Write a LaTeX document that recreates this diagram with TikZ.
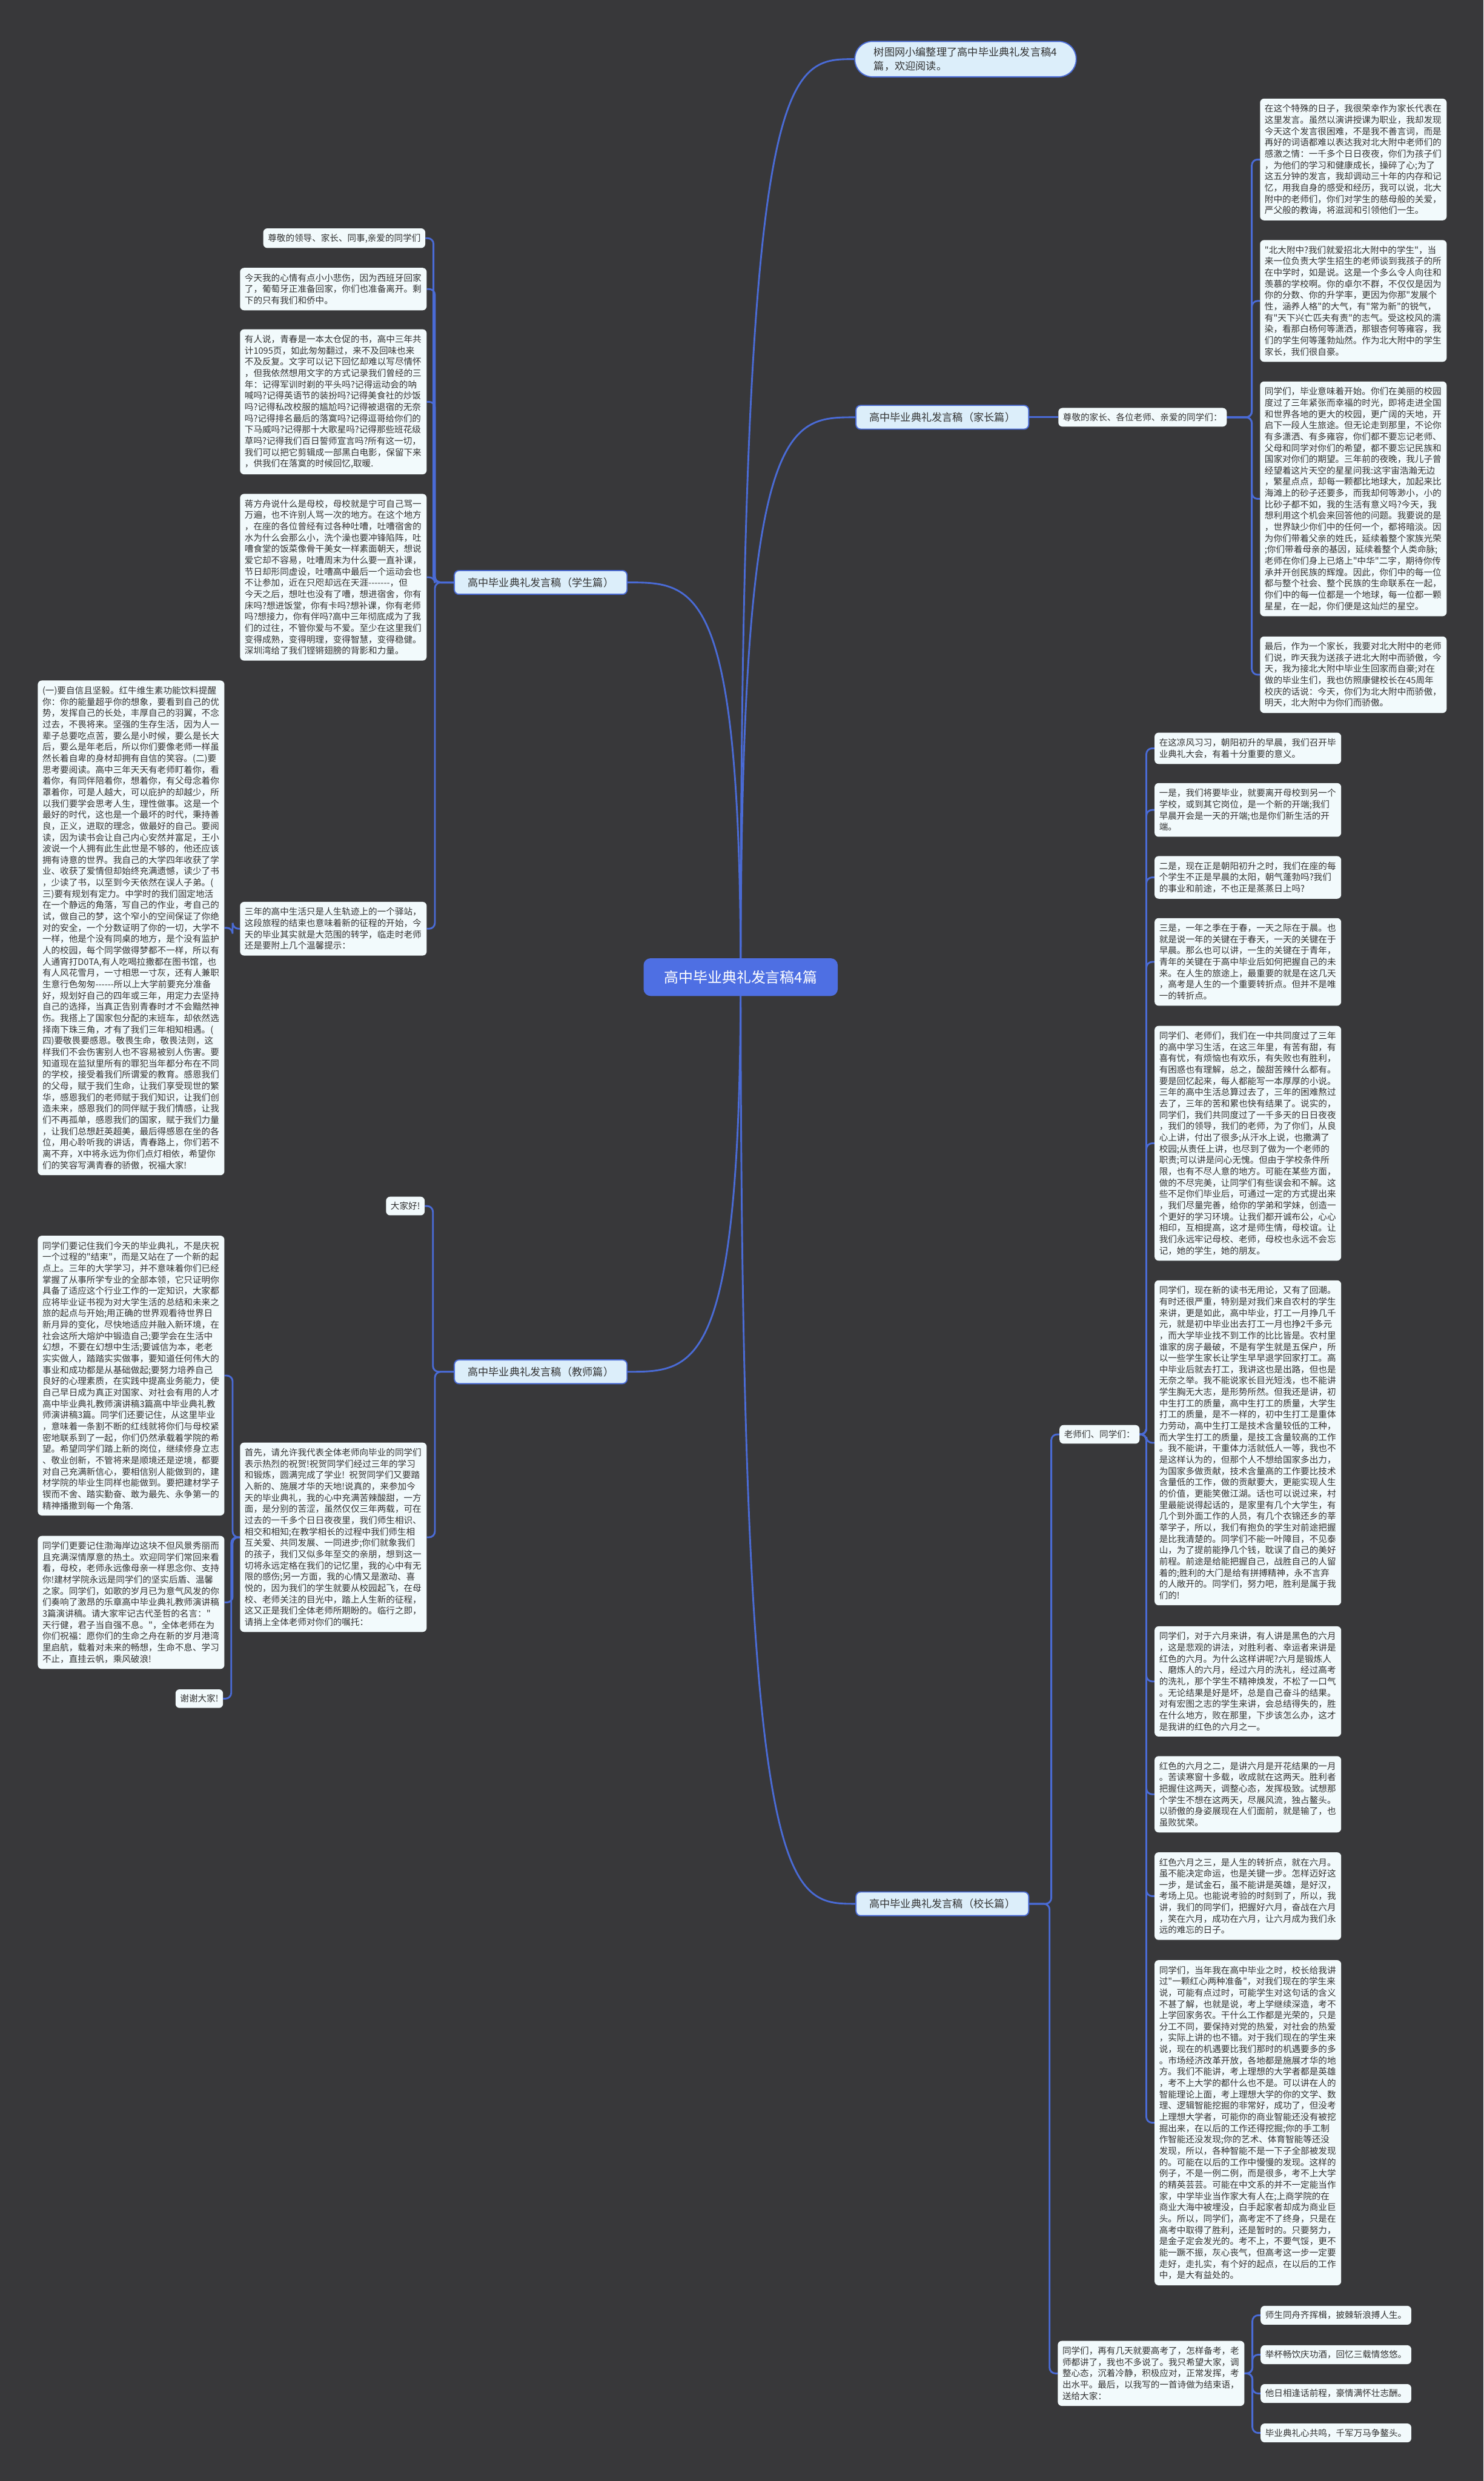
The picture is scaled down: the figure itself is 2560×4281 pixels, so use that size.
\documentclass[tikz,border=0pt]{standalone}
\usepackage{fontspec}
\newfontfamily\cjk{Noto Sans CJK SC}
\usetikzlibrary{calc}
\definecolor{bgc}{HTML}{38383A}
\definecolor{boxc}{HTML}{F2FAFC}
\definecolor{txtc}{HTML}{333333}
\definecolor{linec}{HTML}{4A6BD6}
\definecolor{labc}{HTML}{DCEEFA}
\definecolor{rootc}{HTML}{4E6FE3}
\pgfdeclarelayer{bglayer}
\pgfdeclarelayer{linelayer}
\pgfsetlayers{bglayer,linelayer,main}
\newcommand\linkR[2]{\draw[linkline] (#1.east) -| ($(#2.west)+(-14,0)$) -- (#2.west);}
\newcommand\linkL[2]{\draw[linkline] (#1.west) -| ($(#2.east)+(14,0)$) -- (#2.east);}
\begin{document}
\begin{tikzpicture}[x=1pt,y=-1pt,
  leafbox/.style={fill=boxc, draw=none, rounded corners=7pt, text=txtc,
    font=\cjk\fontsize{15.25}{19.5}\selectfont, text width=306pt, align=left,
    inner xsep=8pt, inner ysep=10pt, anchor=north west},
  shortbox/.style={fill=boxc, draw=none, rounded corners=7pt, text=txtc,
    font=\cjk\fontsize{15.25}{19.5}\selectfont, inner xsep=8pt, inner ysep=9pt},
  branchlab/.style={fill=labc, draw=linec, line width=2pt, rounded corners=8pt, text=txtc,
    font=\cjk\fontsize{18}{22}\selectfont, minimum width=298pt, minimum height=41pt, inner xsep=10pt},
  topnode/.style={fill=labc, draw=linec, line width=2pt, rounded corners=30pt, text=txtc,
    font=\cjk\fontsize{18}{24}\selectfont, align=left, inner xsep=33pt, inner ysep=10pt},
  rootnode/.style={fill=rootc, draw=none, rounded corners=12pt, text=white,
    font=\cjk\fontsize{25}{30}\selectfont, minimum width=335pt, minimum height=65pt},
  linkline/.style={draw=linec, line width=3pt, rounded corners=10pt},
  rootline/.style={draw=linec, line width=3pt}
]
\begin{pgfonlayer}{bglayer}
\fill[bgc] (0,0) rectangle (2560,4281);
\end{pgfonlayer}
\useasboundingbox (0,0) rectangle (2560,4281);

% root and branches
\node[rootnode] (RT) at (1278,1686) {高中毕业典礼发言稿4篇};
\node[topnode, anchor=west] (TN) at (1474,102) {树图网小编整理了高中毕业典礼发言稿4\\篇，欢迎阅读。};
\node[branchlab, anchor=west] (LP) at (1476,720) {高中毕业典礼发言稿（家长篇）};
\node[branchlab, anchor=east] (LS) at (1083,1005) {高中毕业典礼发言稿（学生篇）};
\node[branchlab, anchor=east] (LT) at (1083,2367) {高中毕业典礼发言稿（教师篇）};
\node[branchlab, anchor=west] (LQ) at (1476,3285) {高中毕业典礼发言稿（校长篇）};

% parent branch
\node[shortbox, anchor=west] (PA) at (1826,720) {尊敬的家长、各位老师、亲爱的同学们：};
\node[leafbox] (A) at (2174,170) {在这个特殊的日子，我很荣幸作为家长代表在\\这里发言。虽然以演讲授课为职业，我却发现\\今天这个发言很困难，不是我不善言词，而是\\再好的词语都难以表达我对北大附中老师们的\\感激之情：一千多个日日夜夜，你们为孩子们\\，为他们的学习和健康成长，操碎了心;为了\\这五分钟的发言，我却调动三十年的内存和记\\忆，用我自身的感受和经历，我可以说，北大\\附中的老师们，你们对学生的慈母般的关爱，\\严父般的教诲，将滋润和引领他们一生。};
\node[leafbox] (B) at (2174,414) {"北大附中?我们就爱招北大附中的学生"，当\\来一位负责大学生招生的老师谈到我孩子的所\\在中学时，如是说。这是一个多么令人向往和\\羡慕的学校啊。你的卓尔不群，不仅仅是因为\\你的分数、你的升学率，更因为你那"发展个\\性，涵养人格"的大气，有"常为新"的锐气，\\有"天下兴亡匹夫有责"的志气。受这校风的濡\\染，看那白杨何等潇洒，那银杏何等雍容，我\\们的学生何等蓬勃灿然。作为北大附中的学生\\家长，我们很自豪。};
\node[leafbox] (C) at (2174,658) {同学们，毕业意味着开始。你们在美丽的校园\\度过了三年紧张而幸福的时光，即将走进全国\\和世界各地的更大的校园，更广阔的天地，开\\启下一段人生旅途。但无论走到那里，不论你\\有多潇洒、有多雍容，你们都不要忘记老师、\\父母和同学对你们的希望，都不要忘记民族和\\国家对你们的期望。三年前的夜晚，我儿子曾\\经望着这片天空的星星问我:这宇宙浩瀚无边\\，繁星点点，却每一颗都比地球大，加起来比\\海滩上的砂子还要多，而我却何等渺小，小的\\比砂子都不如，我的生活有意义吗?今天，我\\想利用这个机会来回答他的问题。我要说的是\\，世界缺少你们中的任何一个，都将暗淡。因\\为你们带着父亲的姓氏，延续着整个家族光荣\\;你们带着母亲的基因，延续着整个人类命脉;\\老师在你们身上已烙上"中华"二字，期待你传\\承并开创民族的辉煌。因此，你们中的每一位\\都与整个社会、整个民族的生命联系在一起，\\你们中的每一位都是一个地球，每一位都一颗\\星星，在一起，你们便是这灿烂的星空。};
\node[leafbox] (D) at (2174,1098) {最后，作为一个家长，我要对北大附中的老师\\们说，昨天我为送孩子进北大附中而骄傲，今\\天，我为接北大附中毕业生回家而自豪;对在\\做的毕业生们，我也仿照康健校长在45周年\\校庆的话说：今天，你们为北大附中而骄傲，\\明天，北大附中为你们而骄傲。};

% student branch
\node[shortbox, anchor=east] (s1) at (734,411) {尊敬的领导、家长、同事,亲爱的同学们};
\node[leafbox] (s2) at (414,462) {今天我的心情有点小小悲伤，因为西班牙回家\\了，葡萄牙正准备回家，你们也准备离开。剩\\下的只有我们和侨中。};
\node[leafbox] (s3) at (414,568) {有人说，青春是一本太仓促的书，高中三年共\\计1095页，如此匆匆翻过，来不及回味也来\\不及反复。文字可以记下回忆却难以写尽情怀\\，但我依然想用文字的方式记录我们曾经的三\\年：记得军训时剃的平头吗?记得运动会的呐\\喊吗?记得英语节的装扮吗?记得美食社的炒饭\\吗?记得私改校服的尴尬吗?记得被退宿的无奈\\吗?记得排名最后的落寞吗?记得逗哥给你们的\\下马威吗?记得那十大歌星吗?记得那些班花级\\草吗?记得我们百日誓师宣言吗?所有这一切，\\我们可以把它剪辑成一部黑白电影，保留下来\\，供我们在落寞的时候回忆,取暖.};
\node[leafbox] (s4) at (414,852) {蒋方舟说什么是母校，母校就是宁可自己骂一\\万遍，也不许别人骂一次的地方。在这个地方\\，在座的各位曾经有过各种吐嘈，吐嘈宿舍的\\水为什么会那么小，洗个澡也要冲锋陷阵，吐\\嘈食堂的饭菜像骨干美女一样素面朝天，想说\\爱它却不容易，吐嘈周末为什么要一直补课，\\节日却形同虚设，吐嘈高中最后一个运动会也\\不让参加，近在只咫却远在天涯-------，但\\今天之后，想吐也没有了嘈，想进宿舍，你有\\床吗?想进饭堂，你有卡吗?想补课，你有老师\\吗?想接力，你有伴吗?高中三年彻底成为了我\\们的过往，不管你爱与不爱。至少在这里我们\\变得成熟，变得明理，变得智慧，变得稳健。\\深圳湾给了我们铿锵翅膀的背影和力量。};
\node[leafbox] (s6) at (414,1556) {三年的高中生活只是人生轨迹上的一个驿站，\\这段旅程的结束也意味着新的征程的开始，今\\天的毕业其实就是大范围的转学，临走时老师\\还是要附上几个温馨提示：};
\node[leafbox] (s5) at (65,1174) {(一)要自信且坚毅。红牛维生素功能饮料提醒\\你：你的能量超乎你的想象，要看到自己的优\\势，发挥自己的长处，丰厚自己的羽翼，不念\\过去，不畏将来。坚强的生存生活，因为人一\\辈子总要吃点苦，要么是小时候，要么是长大\\后，要么是年老后，所以你们要像老师一样虽\\然长着自卑的身材却拥有自信的笑容。(二)要\\思考要阅读。高中三年天天有老师盯着你，看\\着你，有同伴陪着你，想着你，有父母念着你\\罩着你，可是人越大，可以庇护的却越少，所\\以我们要学会思考人生，理性做事。这是一个\\最好的时代，这也是一个最坏的时代，秉持善\\良，正义，进取的理念，做最好的自己。要阅\\读，因为读书会让自己内心安然并富足，王小\\波说一个人拥有此生此世是不够的，他还应该\\拥有诗意的世界。我自己的大学四年收获了学\\业、收获了爱情但却始终充满遗憾，读少了书\\，少读了书，以至到今天依然在误人子弟。(\\三)要有规划有定力。中学时的我们固定地活\\在一个静远的角落，写自己的作业，考自己的\\试，做自己的梦，这个窄小的空间保证了你绝\\对的安全，一个分数证明了你的一切，大学不\\一样，他是个没有同桌的地方，是个没有监护\\人的校园，每个同学做得梦都不一样，所以有\\人通宵打D0TA,有人吃喝拉撒都在图书馆，也\\有人风花雪月，一寸相思一寸灰，还有人兼职\\生意行色匆匆------所以上大学前要充分准备\\好，规划好自己的四年或三年，用定力去坚持\\自己的选择，当真正告别青春时才不会黯然神\\伤。我搭上了国家包分配的末班车，却依然选\\择南下珠三角，才有了我们三年相知相遇。(\\四)要敬畏要感恩。敬畏生命，敬畏法则，这\\样我们不会伤害别人也不容易被别人伤害。要\\知道现在监狱里所有的罪犯当年都分布在不同\\的学校，接受着我们所谓爱的教育。感恩我们\\的父母，赋于我们生命，让我们享受现世的繁\\华，感恩我们的老师赋于我们知识，让我们创\\造未来，感恩我们的同伴赋于我们情感，让我\\们不再孤单，感恩我们的国家，赋于我们力量\\，让我们总想赶英超美，最后得感恩在坐的各\\位，用心聆听我的讲话，青春路上，你们若不\\离不弃，X中将永远为你们点灯相依，希望你\\们的笑容写满青春的骄傲，祝福大家!};

% teacher branch
\node[shortbox, anchor=east] (t1) at (733,2081) {大家好!};
\node[leafbox] (t2) at (414,2489) {首先，请允许我代表全体老师向毕业的同学们\\表示热烈的祝贺!祝贺同学们经过三年的学习\\和锻炼，圆满完成了学业! 祝贺同学们又要踏\\入新的、施展才华的天地!说真的，来参加今\\天的毕业典礼，我的心中充满苦辣酸甜，一方\\面，是分别的苦涩，虽然仅仅三年两载，可在\\过去的一千多个日日夜夜里，我们师生相识、\\相交和相知;在教学相长的过程中我们师生相\\互关爱、共同发展、一同进步;你们就象我们\\的孩子，我们又似多年至交的亲朋，想到这一\\切将永远定格在我们的记忆里，我的心中有无\\限的感伤;另一方面，我的心情又是激动、喜\\悦的，因为我们的学生就要从校园起飞，在母\\校、老师关注的目光中，踏上人生新的征程，\\这又正是我们全体老师所期盼的。临行之即，\\请捎上全体老师对你们的嘱托：};
\node[leafbox] (t3) at (65,2132) {同学们要记住我们今天的毕业典礼，不是庆祝\\一个过程的"结束"，而是又站在了一个新的起\\点上。三年的大学学习，并不意味着你们已经\\掌握了从事所学专业的全部本领，它只证明你\\具备了适应这个行业工作的一定知识，大家都\\应将毕业证书视为对大学生活的总结和未来之\\旅的起点与开始;用正确的世界观看待世界日\\新月异的变化，尽快地适应并融入新环境，在\\社会这所大熔炉中锻造自己;要学会在生活中\\幻想，不要在幻想中生活;要诚信为本，老老\\实实做人，踏踏实实做事，要知道任何伟大的\\事业和成功都是从基础做起;要努力培养自己\\良好的心理素质，在实践中提高业务能力，使\\自己早日成为真正对国家、对社会有用的人才\\高中毕业典礼教师演讲稿3篇高中毕业典礼教\\师演讲稿3篇。同学们还要记住，从这里毕业\\，意味着一条割不断的红线就将你们与母校紧\\密地联系到了一起，你们仍然承载着学院的希\\望。希望同学们踏上新的岗位，继续修身立志\\、敬业创新，不管将来是顺境还是逆境，都要\\对自己充满新信心，要相信别人能做到的，建\\材学院的毕业生同样也能做到。要把建材学子\\锲而不舍、踏实勤奋、敢为最先、永争第一的\\精神播撒到每一个角落.};
\node[leafbox] (t4) at (65,2650) {同学们更要记住渤海岸边这块不但风景秀丽而\\且充满深情厚意的热土。欢迎同学们常回来看\\看，母校，老师永远像母亲一样思念你、支持\\你!建材学院永远是同学们的坚实后盾、温馨\\之家。同学们，如歌的岁月已为意气风发的你\\们奏响了激昂的乐章高中毕业典礼教师演讲稿\\3篇演讲稿。请大家牢记古代圣哲的名言："\\天行健，君子当自强不息。"，全体老师在为\\你们祝福：愿你们的生命之舟在新的岁月港湾\\里启航，载着对未来的畅想，生命不息、学习\\不止，直挂云帆，乘风破浪!};
\node[shortbox, anchor=east] (t5) at (385,2931) {谢谢大家!};

% principal branch
\node[shortbox, anchor=west] (QA) at (1828,2475) {老师们、同学们：};
\node[leafbox] (p1) at (1992,1264) {在这凉风习习，朝阳初升的早晨，我们召开毕\\业典礼大会，有着十分重要的意义。};
\node[leafbox] (p2) at (1992,1351) {一是，我们将要毕业，就要离开母校到另一个\\学校，或到其它岗位，是一个新的开端;我们\\早晨开会是一天的开端;也是你们新生活的开\\端。};
\node[leafbox] (p3) at (1992,1477) {二是，现在正是朝阳初升之时，我们在座的每\\个学生不正是早晨的太阳，朝气蓬勃吗?我们\\的事业和前途，不也正是蒸蒸日上吗?};
\node[leafbox] (p4) at (1992,1584) {三是，一年之季在于春，一天之际在于晨。也\\就是说一年的关键在于春天，一天的关键在于\\早晨。那么也可以讲，一生的关键在于青年，\\青年的关键在于高中毕业后如何把握自己的未\\来。在人生的旅途上，最重要的就是在这几天\\，高考是人生的一个重要转折点。但并不是唯\\一的转折点。};
\node[leafbox] (p5) at (1992,1770) {同学们、老师们，我们在一中共同度过了三年\\的高中学习生活，在这三年里，有苦有甜，有\\喜有忧，有烦恼也有欢乐，有失败也有胜利，\\有困惑也有理解，总之，酸甜苦辣什么都有。\\要是回忆起来，每人都能写一本厚厚的小说。\\三年的高中生活总算过去了，三年的困难熬过\\去了，三年的苦和累也快有结果了。说实的，\\同学们，我们共同度过了一千多天的日日夜夜\\，我们的领导，我们的老师，为了你们，从良\\心上讲，付出了很多;从汗水上说，也撒满了\\校园;从责任上讲，也尽到了做为一个老师的\\职责;可以讲是问心无愧。但由于学校条件所\\限，也有不尽人意的地方。可能在某些方面，\\做的不尽完美，让同学们有些误会和不解。这\\些不足你们毕业后，可通过一定的方式提出来\\，我们尽量完善，给你的学弟和学妹，创造一\\个更好的学习环境。让我们都开诚布公，心心\\相印，互相提高，这才是师生情，母校谊。让\\我们永远牢记母校、老师，母校也永远不会忘\\记，她的学生，她的朋友。};
\node[leafbox] (p6) at (1992,2209) {同学们，现在新的读书无用论，又有了回潮。\\有时还很严重，特别是对我们来自农村的学生\\来讲，更是如此，高中毕业，打工一月挣几千\\元，就是初中毕业出去打工一月也挣2千多元\\，而大学毕业找不到工作的比比皆是。农村里\\谁家的房子最破，不是有学生就是五保户，所\\以一些学生家长让学生早早退学回家打工。高\\中毕业后就去打工，我讲这也是出路，但也是\\无奈之举。我不能说家长目光短浅，也不能讲\\学生胸无大志，是形势所然。但我还是讲，初\\中生打工的质量，高中生打工的质量，大学生\\打工的质量，是不一样的，初中生打工是重体\\力劳动，高中生打工是技术含量较低的工种，\\而大学生打工的质量，是技工含量较高的工作\\。我不能讲，干重体力活就低人一等，我也不\\是这样认为的，但那个人不想给国家多出力，\\为国家多做贡献，技术含量高的工作要比技术\\含量低的工作，做的贡献要大，更能实现人生\\的价值，更能笑傲江湖。话也可以说过来，村\\里最能说得起话的，是家里有几个大学生，有\\几个到外面工作的人员，有几个衣锦还乡的莘\\莘学子，所以，我们有抱负的学生对前途把握\\是比我清楚的。同学们不能一叶障目，不见泰\\山，为了提前能挣几个钱，耽误了自己的美好\\前程。前途是给能把握自己，战胜自己的人留\\着的;胜利的大门是给有拼搏精神，永不言弃\\的人敞开的。同学们，努力吧，胜利是属于我\\们的!};
\node[leafbox] (p7) at (1992,2806) {同学们，对于六月来讲，有人讲是黑色的六月\\，这是悲观的讲法，对胜利者、幸运者来讲是\\红色的六月。为什么这样讲呢?六月是锻炼人\\、磨炼人的六月，经过六月的洗礼，经过高考\\的洗礼，那个学生不精神焕发，不松了一口气\\。无论结果是好是坏，总是自己奋斗的结果。\\对有宏图之志的学生来讲，会总结得失的，胜\\在什么地方，败在那里，下步该怎么办，这才\\是我讲的红色的六月之一。};
\node[leafbox] (p8) at (1992,3030) {红色的六月之二，是讲六月是开花结果的一月\\。苦读寒窗十多载，收成就在这两天。胜利者\\把握住这两天，调整心态，发挥极致。试想那\\个学生不想在这两天，尽展风流，独占鳌头。\\以骄傲的身姿展现在人们面前，就是输了，也\\虽败犹荣。};
\node[leafbox] (p9) at (1992,3196) {红色六月之三，是人生的转折点，就在六月。\\虽不能决定命运，也是关键一步。怎样迈好这\\一步，是试金石，虽不能讲是英雄，是好汉，\\考场上见。也能说考验的时刻到了，所以，我\\讲，我们的同学们，把握好六月，奋战在六月\\，笑在六月，成功在六月，让六月成为我们永\\远的难忘的日子。};
\node[leafbox] (p10) at (1992,3382) {同学们，当年我在高中毕业之时，校长给我讲\\过"一颗红心两种准备"，对我们现在的学生来\\说，可能有点过时，可能学生对这句话的含义\\不甚了解，也就是说，考上学继续深造，考不\\上学回家务农。干什么工作都是光荣的，只是\\分工不同，要保持对党的热爱，对社会的热爱\\，实际上讲的也不错。对于我们现在的学生来\\说，现在的机遇要比我们那时的机遇要多的多\\。市场经济改革开放，各地都是施展才华的地\\方。我们不能讲，考上理想的大学者都是英雄\\，考不上大学的都什么也不是。可以讲在人的\\智能理论上面，考上理想大学的你的文学、数\\理、逻辑智能挖掘的非常好，成功了，但没考\\上理想大学者，可能你的商业智能还没有被挖\\掘出来，在以后的工作还得挖掘;你的手工制\\作智能还没发现;你的艺术、体育智能等还没\\发现，所以，各种智能不是一下子全部被发现\\的。可能在以后的工作中慢慢的发现。这样的\\例子，不是一例二例，而是很多，考不上大学\\的精英芸芸。可能在中文系的并不一定能当作\\家，中学毕业当作家大有人在;上商学院的在\\商业大海中被埋没，白手起家者却成为商业巨\\头。所以，同学们，高考定不了终身，只是在\\高考中取得了胜利，还是暂时的。只要努力，\\是金子定会发光的。考不上，不要气馁，更不\\能一蹶不振，灰心丧气，但高考这一步一定要\\走好，走扎实，有个好的起点，在以后的工作\\中，是大有益处的。};
\node[leafbox] (q2) at (1825,4039) {同学们，再有几天就要高考了，怎样备考，老\\师都讲了，我也不多说了。我只希望大家，调\\整心态，沉着冷静，积极应对，正常发挥，考\\出水平。最后，以我写的一首诗做为结束语，\\送给大家：};
\node[shortbox, anchor=west] (v1) at (2175,3995) {师生同舟齐挥楫，披棘斩浪搏人生。};
\node[shortbox, anchor=west] (v2) at (2175,4063) {举杯畅饮庆功酒，回忆三载情悠悠。};
\node[shortbox, anchor=west] (v3) at (2175,4130) {他日相逢话前程，豪情满怀壮志酬。};
\node[shortbox, anchor=west] (v4) at (2175,4198) {毕业典礼心共鸣，千军万马争鳌头。};

\begin{pgfonlayer}{linelayer}
% root curves
\draw[rootline] (RT.center) .. controls (RT.center |- TN.west) and ($(RT.center |- TN.west)!0.4!(TN.west)$) .. (TN.west);
\draw[rootline] (RT.center) .. controls (RT.center |- LP.west) and ($(RT.center |- LP.west)!0.4!(LP.west)$) .. (LP.west);
\draw[rootline] (RT.center) .. controls (RT.center |- LQ.west) and ($(RT.center |- LQ.west)!0.4!(LQ.west)$) .. (LQ.west);
\draw[rootline] (RT.center) .. controls (RT.center |- LS.east) and ($(RT.center |- LS.east)!0.4!(LS.east)$) .. (LS.east);
\draw[rootline] (RT.center) .. controls (RT.center |- LT.east) and ($(RT.center |- LT.east)!0.4!(LT.east)$) .. (LT.east);
% parent
\draw[linkline] (LP.east) -- (PA.west);
\linkR{PA}{A}\linkR{PA}{B}\linkR{PA}{C}\linkR{PA}{D}
% student
\linkL{LS}{s1}\linkL{LS}{s2}\linkL{LS}{s3}\linkL{LS}{s4}\linkL{LS}{s6}
\linkL{s6}{s5}
% teacher
\linkL{LT}{t1}\linkL{LT}{t2}
\linkL{t2}{t3}\linkL{t2}{t4}\linkL{t2}{t5}
% principal
\linkR{LQ}{QA}\linkR{LQ}{q2}
\linkR{QA}{p1}\linkR{QA}{p2}\linkR{QA}{p3}\linkR{QA}{p4}\linkR{QA}{p5}
\linkR{QA}{p6}\linkR{QA}{p7}\linkR{QA}{p8}\linkR{QA}{p9}\linkR{QA}{p10}
\linkR{q2}{v1}\linkR{q2}{v2}\linkR{q2}{v3}\linkR{q2}{v4}
\end{pgfonlayer}
\end{tikzpicture}
\end{document}
